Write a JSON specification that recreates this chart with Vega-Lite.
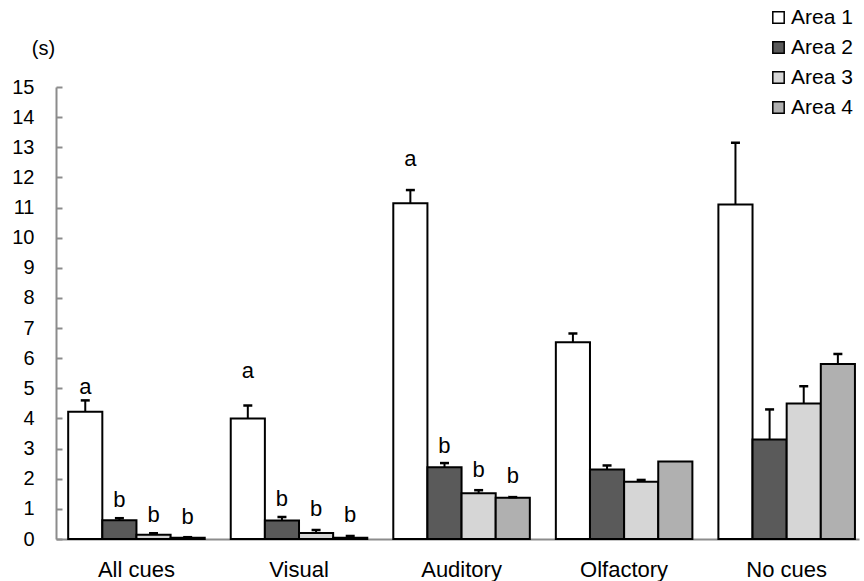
{
  "$schema": "https://vega.github.io/schema/vega-lite/v6.json",
  "width": 803,
  "height": 452,
  "autosize": {"type": "none"},
  "padding": {"left": 56, "top": 87, "right": 5, "bottom": 42},
  "background": "white",
  "config": {
    "view": {"stroke": null},
    "font": "Liberation Sans"
  },
  "resolve": {"axis": {"y": "independent"}, "scale": {"y": "shared"}},
  "data": {
    "values": [
      {"group": "All cues", "area": "Area 1", "value": 4.22, "upper": 4.6, "letter": "a", "labelAt": 5.03},
      {"group": "All cues", "area": "Area 2", "value": 0.62, "upper": 0.69, "letter": "b", "labelAt": 1.3},
      {"group": "All cues", "area": "Area 3", "value": 0.14, "upper": 0.19, "letter": "b", "labelAt": 0.8},
      {"group": "All cues", "area": "Area 4", "value": 0.04, "upper": 0.06, "letter": "b", "labelAt": 0.74},
      {"group": "Visual", "area": "Area 1", "value": 4.0, "upper": 4.43, "letter": "a", "labelAt": 5.58},
      {"group": "Visual", "area": "Area 2", "value": 0.61, "upper": 0.73, "letter": "b", "labelAt": 1.32},
      {"group": "Visual", "area": "Area 3", "value": 0.2, "upper": 0.3, "letter": "b", "labelAt": 1.0},
      {"group": "Visual", "area": "Area 4", "value": 0.04, "upper": 0.1, "letter": "b", "labelAt": 0.78},
      {"group": "Auditory", "area": "Area 1", "value": 11.14, "upper": 11.58, "letter": "a", "labelAt": 12.6},
      {"group": "Auditory", "area": "Area 2", "value": 2.38, "upper": 2.52, "letter": "b", "labelAt": 3.08},
      {"group": "Auditory", "area": "Area 3", "value": 1.52, "upper": 1.62, "letter": "b", "labelAt": 2.28},
      {"group": "Auditory", "area": "Area 4", "value": 1.37, "upper": 1.39, "letter": "b", "labelAt": 2.08},
      {"group": "Olfactory", "area": "Area 1", "value": 6.53, "upper": 6.82, "letter": null, "labelAt": null},
      {"group": "Olfactory", "area": "Area 2", "value": 2.31, "upper": 2.44, "letter": null, "labelAt": null},
      {"group": "Olfactory", "area": "Area 3", "value": 1.9, "upper": 1.96, "letter": null, "labelAt": null},
      {"group": "Olfactory", "area": "Area 4", "value": 2.57, "upper": null, "letter": null, "labelAt": null},
      {"group": "No cues", "area": "Area 1", "value": 11.1, "upper": 13.15, "letter": null, "labelAt": null},
      {"group": "No cues", "area": "Area 2", "value": 3.3, "upper": 4.3, "letter": null, "labelAt": null},
      {"group": "No cues", "area": "Area 3", "value": 4.5, "upper": 5.07, "letter": null, "labelAt": null},
      {"group": "No cues", "area": "Area 4", "value": 5.81, "upper": 6.14, "letter": null, "labelAt": null}
    ]
  },
  "encoding": {
    "x": {
      "field": "group",
      "type": "nominal",
      "sort": ["All cues", "Visual", "Auditory", "Olfactory", "No cues"],
      "scale": {"paddingInner": 0.16, "paddingOuter": 0.05, "align": 0.75},
      "axis": {
        "title": null,
        "labelAngle": 0,
        "labelFontSize": 22,
        "labelColor": "black",
        "labelPadding": 20,
        "ticks": false,
        "domainColor": "#8c8c8c",
        "domainWidth": 2
      }
    },
    "xOffset": {
      "field": "area",
      "type": "nominal",
      "sort": ["Area 1", "Area 2", "Area 3", "Area 4"],
      "scale": {"paddingInner": 0, "paddingOuter": 0}
    }
  },
  "layer": [
    {
      "mark": {"type": "bar", "stroke": "black", "strokeWidth": 2},
      "encoding": {
        "y": {
          "field": "value",
          "type": "quantitative",
          "scale": {"domain": [0, 15], "nice": false, "zero": true},
          "axis": {
            "title": "(s)",
            "titleAngle": 0,
            "titleFontSize": 20,
            "titleFontWeight": "normal",
            "titleColor": "black",
            "titleAlign": "center",
            "titleBaseline": "middle",
            "titleX": -13,
            "titleY": -39,
            "values": [0, 1, 2, 3, 4, 5, 6, 7, 8, 9, 10, 11, 12, 13, 14, 15],
            "labelOverlap": false,
            "labelBound": false,
            "tickSize": -6,
            "labelPadding": 28,
            "labelFontSize": 20,
            "labelColor": "black",
            "domainColor": "#8c8c8c",
            "domainWidth": 2,
            "tickColor": "#8c8c8c",
            "tickWidth": 2,
            "grid": false
          }
        },
        "fill": {
          "field": "area",
          "type": "nominal",
          "scale": {
            "domain": ["Area 1", "Area 2", "Area 3", "Area 4"],
            "range": ["#ffffff", "#5a5a5a", "#d6d6d6", "#b0b0b0"]
          },
          "legend": {
            "title": null,
            "orient": "none",
            "legendX": 712,
            "legendY": -80,
            "symbolType": "square",
            "symbolSize": 130,
            "symbolStrokeColor": "black",
            "symbolStrokeWidth": 1.5,
            "labelFontSize": 21,
            "labelColor": "black",
            "rowPadding": 8,
            "labelOffset": 2
          }
        }
      }
    },
    {
      "transform": [{"filter": "datum.upper != null"}],
      "mark": {"type": "rule", "color": "black", "strokeWidth": 2},
      "encoding": {
        "y": {"field": "value", "type": "quantitative", "axis": null},
        "y2": {"field": "upper"}
      }
    },
    {
      "transform": [{"filter": "datum.upper != null"}],
      "mark": {"type": "tick", "color": "black", "thickness": 2.5, "size": 9, "opacity": 1},
      "encoding": {
        "y": {"field": "upper", "type": "quantitative", "axis": null}
      }
    },
    {
      "transform": [{"filter": "datum.letter != null"}],
      "mark": {"type": "text", "fontSize": 22, "baseline": "middle", "color": "black"},
      "encoding": {
        "y": {"field": "labelAt", "type": "quantitative", "axis": null},
        "text": {"field": "letter"}
      }
    }
  ]
}
